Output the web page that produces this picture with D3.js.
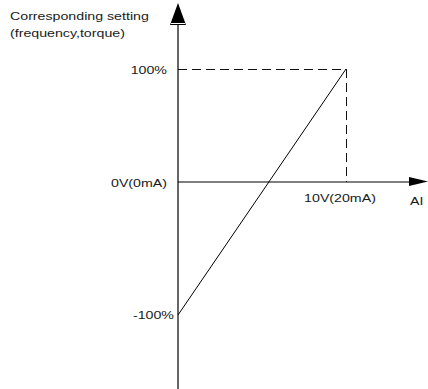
<!DOCTYPE html>
<html><head><meta charset="utf-8">
<script src="https://cdn.jsdelivr.net/npm/d3@7"></script>
<style>body{margin:0;background:#fff}svg{display:block}text{font-family:"Liberation Sans",Arial,sans-serif;font-size:11px;fill:#1a1a1a}</style>
</head><body><svg id="c" width="428" height="389"></svg>
<script>
// data
const inputDomain = [0, 10];            // AI input, volts
const lineInput = [0, 10];              // volts
const lineOutput = [-100, 100];         // corresponding setting, %
const yTickValues = [100, 0, -100];
const yTickLabels = ["100%", "0V(0mA)", "-100%"];
const xTickValues = [10];
const xTickLabels = ["10V(20mA)"];
const titleLines = ["Corresponding setting", "(frequency,torque)"];
const xAxisTitle = "AI";

const svg = d3.select("#c");
const x = d3.scaleLinear().domain(inputDomain).range([178, 346]);
const y = d3.scaleLinear().domain([-100, 0, 100]).range([315, 182, 69]);
const stretch = 1.29;
function widen(sel){ sel.each(function(){ const w=this.getComputedTextLength(); d3.select(this).attr("textLength", w*stretch).attr("lengthAdjust","spacingAndGlyphs"); }); }

const x0 = x(0), y0 = y(0);
// dashed guides
const xe = x(xTickValues[0]), yt = y(100);
svg.append("line").attr("x1", x0).attr("x2", xe).attr("y1", yt+0.5).attr("y2", yt+0.5)
  .attr("stroke", "#111").attr("stroke-dasharray", "9,5").attr("stroke-width", 1).attr("shape-rendering","crispEdges");
svg.append("line").attr("x1", xe+0.5).attr("x2", xe+0.5).attr("y1", yt).attr("y2", y0)
  .attr("stroke", "#111").attr("stroke-dasharray", "9,5").attr("stroke-width", 1).attr("shape-rendering","crispEdges");

// axes
svg.append("line").attr("x1", x0).attr("x2", x0).attr("y1", 24).attr("y2", 389).attr("stroke", "#000").attr("stroke-width", 1.2);
svg.append("line").attr("x1", x0).attr("x2", 410).attr("y1", y0).attr("y2", y0).attr("stroke", "#000").attr("stroke-width", 1.2);
// arrows
svg.append("path").attr("d", `M${x0-8},25 L${x0},3 L${x0+8},25 Z`).attr("fill", "#000");
svg.append("line").attr("x1", x0-7).attr("x2", x0+7).attr("y1", 23.5).attr("y2", 23.5).attr("stroke", "#fff").attr("stroke-width", 1);
svg.append("path").attr("d", `M409,177 L428,181.5 L409,186 Z`).attr("fill", "#000");

// characteristic line
const line = d3.line().x((d,i)=>x(lineInput[i])).y(d=>y(d));
svg.append("path").datum(lineOutput).attr("d", line).attr("fill", "none").attr("stroke", "#000").attr("stroke-width", 1);

// y labels
svg.selectAll(".yl").data(yTickValues).enter().append("text")
  .attr("x", (d,i)=> i===2 ? x0-4 : x0-11)
  .attr("y", (d,i)=> y(d) + (i===2 ? 4 : 5))
  .attr("text-anchor", "end").text((d,i)=>yTickLabels[i]).call(widen);
// x labels
svg.selectAll(".xl").data(xTickValues).enter().append("text")
  .attr("x", d=>x(d)-6).attr("y", 202).attr("text-anchor", "middle")
  .text((d,i)=>xTickLabels[i]).call(widen);
svg.append("text").attr("x", 410).attr("y", 205).text(xAxisTitle).call(widen);
// title
svg.selectAll(".tt").data(titleLines).enter().append("text")
  .attr("x", 10).attr("y", (d,i)=>20+i*17).text(d=>d).call(widen);
</script></body></html>
